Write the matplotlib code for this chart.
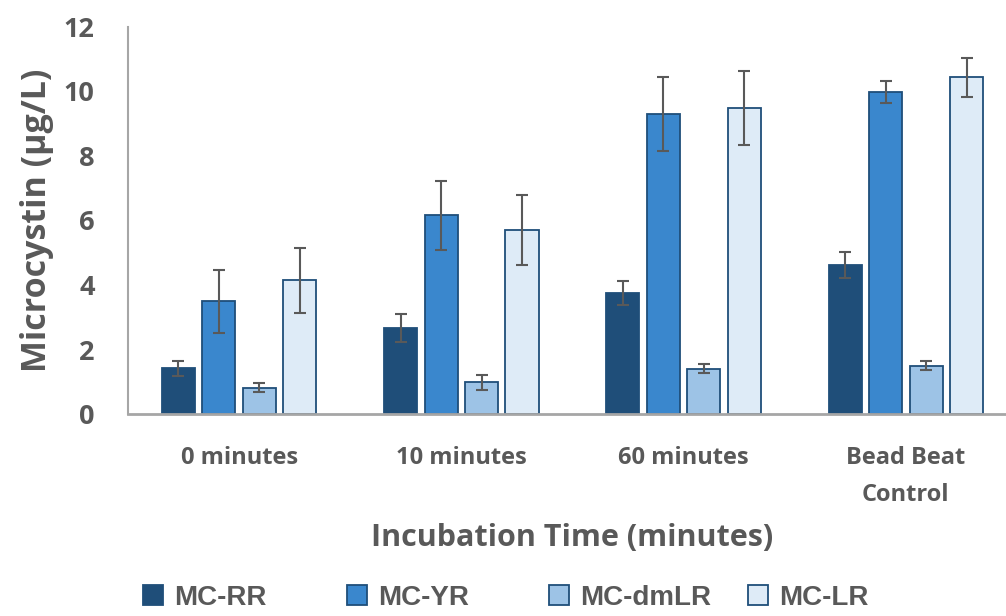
import numpy as np
import matplotlib.pyplot as plt

groups = ['0 minutes', '10 minutes', '60 minutes', 'Bead Beat\nControl']
series = ['MC-RR', 'MC-YR', 'MC-dmLR', 'MC-LR']

mc_rr = [1.42, 2.66, 3.75, 4.61]
mc_yr = [3.49, 6.16, 9.30, 9.98]
mc_dmlr = [0.82, 0.98, 1.41, 1.50]
mc_lr = [4.15, 5.70, 9.49, 10.44]

err_rr = [0.23, 0.43, 0.38, 0.40]
err_yr = [0.99, 1.06, 1.14, 0.35]
err_dmlr = [0.14, 0.22, 0.13, 0.13]
err_lr = [1.01, 1.08, 1.15, 0.60]

values = [mc_rr, mc_yr, mc_dmlr, mc_lr]
errors = [err_rr, err_yr, err_dmlr, err_lr]
colors = ['#1F4E79', '#3A87CD', '#9DC3E6', '#DEEBF7']
gray = '#595959'

plt.rcParams['font.family'] = ['Open Sans', 'DejaVu Sans']

fig = plt.figure(figsize=(10.06, 6.16), dpi=100)
ax = fig.add_axes([0.1272, 0.3279, 0.8837, 0.6283])

x = np.arange(len(groups))
pitch = 0.182
width = 0.149
bars = []
for i in range(len(series)):
    pos = x + (i - 1.5) * pitch
    b = ax.bar(pos, values[i], width, color=colors[i], edgecolor='#1F4E79',
               linewidth=1.3, label=series[i], zorder=2)
    bars.append(b)
    ax.errorbar(pos, values[i], yerr=errors[i], fmt='none', ecolor=gray,
                elinewidth=1.5, capsize=4.5, capthick=1.5, zorder=3)

ax.set_xlim(-0.5, 3.5)
ax.set_ylim(0, 12)
ax.set_yticks(range(0, 13, 2))
ax.set_xticks(x)
ax.set_xticklabels(groups, fontsize=17, fontweight='bold', color=gray,
                   linespacing=1.7)
ax.tick_params(axis='y', length=0, pad=24, labelsize=19.5, labelcolor=gray)
ax.tick_params(axis='x', length=0, pad=23)
for lab in ax.get_yticklabels():
    lab.set_fontweight('bold')

for s in ['top', 'right']:
    ax.spines[s].set_visible(False)
ax.spines['left'].set_color('#A6A6A6')
ax.spines['bottom'].set_color('#A6A6A6')
ax.spines['left'].set_linewidth(1.5)
ax.spines['bottom'].set_linewidth(2)

ax.set_ylabel('Microcystin (μg/L)', fontsize=24.5, fontweight='bold',
              color=gray, labelpad=7)
ax.set_xlabel('Incubation Time (minutes)', fontsize=22, fontweight='bold',
              color=gray, labelpad=12)

# one legend entry per box, spaced evenly like the original
leg_x = [143, 347, 549, 748]
for i in range(len(series)):
    leg = fig.legend([bars[i]], [series[i]], loc='center left',
                     bbox_to_anchor=(leg_x[i] / 1006, 0.03),
                     frameon=False, borderpad=0, borderaxespad=0,
                     handlelength=0.72, handleheight=0.72, handletextpad=0.4,
                     prop={'family': 'Liberation Sans',
                           'weight': 'bold', 'size': 20})
    for t in leg.get_texts():
        t.set_color(gray)

plt.savefig('out.png', dpi=100)
